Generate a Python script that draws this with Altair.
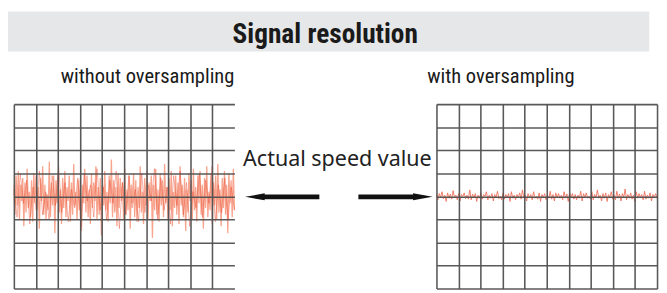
import altair as alt
import pandas as pd
import numpy as np

TITLE = "Signal resolution"
SUB_LEFT = "without oversampling"
SUB_RIGHT = "with oversampling"
MID_LABEL = "Actual speed value"
X_DIVS_LEFT = list(range(0, 10))
X_DIVS_RIGHT = list(range(0, 11))
Y_DIVS = list(range(-4, 5))

# left scope, light trace (in divisions)
left_light = [0.3,-0.8,0.9,-0.4,1.1,-1.0,0.5,-0.2,0.8,-1.3,0.6,-0.7,1.2,-0.5,0.2,-0.9,0.7,-1.1,1.0,-0.3,
0.9,-0.6,0.4,-1.4,0.8,-0.2,1.3,-0.8,0.5,-1.0,0.1,-0.6,1.5,-0.9,0.6,-0.4,0.9,-1.6,0.7,-0.3,
1.0,-0.7,0.3,-1.2,0.8,-0.5,1.1,-0.9,0.4,-0.2,0.9,-1.1,0.6,-0.8,1.4,-0.4,0.2,-1.0,0.7,-0.6,
0.8,-1.5,0.5,-0.3,1.2,-0.7,0.9,-0.9,0.3,-1.2,1.0,-0.5,0.6,-0.2,1.3,-1.0,0.4,-0.8,0.8,-1.7,
0.5,-0.4,1.1,-0.6,0.2,-1.1,0.9,-0.3,1.6,-0.9,0.7,-0.7,0.4,-1.3,1.0,-0.5,0.8,-0.2,0.6,-1.0,
1.2,-0.8,0.3,-0.6,0.9,-1.4,0.5,-0.3,1.0,-0.9,0.7,-1.1,0.4,-0.5,1.3,-0.7,0.2,-1.2,0.8,-0.4,
1.1,-1.0,0.6,-0.2,0.9,-1.8,0.5,-0.6,1.2,-0.8,0.3,-1.1,1.0,-0.4,0.7,-0.9,1.4,-0.3,0.4,-1.0,
0.8,-0.6,1.1,-1.3,0.2,-0.5,0.9,-0.8,0.6,-1.2,1.3,-0.4,0.5,-0.9,0.8,-1.5,0.3,-0.7,1.0,-0.2,
0.7,-1.0,1.2,-0.6,0.4,-1.1,0.9,-0.3,1.1,-0.8,0.5,-1.4,0.8,-0.5,1.3,-0.9,0.2,-0.6,1.0,-1.2,
0.6,-0.4,0.9,-1.0,1.4,-0.7,0.3,-1.3,0.8,-0.5,1.1,-0.8,0.5,-1.6,1.0,-0.3,0.7,-0.9,1.2,-0.6]

# left scope, dark trace
left_dark = [0.5,-0.9,1.0,-0.3,0.7,-1.2,0.4,-0.6,1.1,-0.8,0.2,-1.0,0.9,-0.4,1.3,-0.7,0.6,-1.1,0.3,-0.5,
0.8,-1.3,1.0,-0.2,0.5,-0.9,1.2,-0.6,0.4,-1.0,0.7,-0.3,1.1,-1.4,0.6,-0.8,0.9,-0.5,0.3,-1.1,
1.0,-0.7,0.5,-0.2,1.2,-1.0,0.8,-0.6,0.4,-1.2,0.9,-0.4,1.1,-0.8,0.6,-1.3,0.2,-0.5,1.0,-0.9,
0.7,-0.3,1.3,-1.1,0.5,-0.7,0.8,-1.0,0.4,-0.6]

# right scope trace
right_trace = [0.1,-0.15,0.12,-0.05,0.2,-0.1,0.05,-0.22,0.15,-0.08,0.1,-0.12,0.25,-0.05,0.05,-0.15,0.12,-0.2,0.08,0.0,
0.15,-0.1,0.05,-0.12,0.28,-0.15,0.1,-0.05,0.12,-0.22,0.05,-0.08,0.15,-0.12,0.08,0.0,0.2,-0.15,0.05,-0.08,
0.12,-0.2,0.08,-0.05,0.22,-0.1,0.0,-0.15,0.15,-0.12,0.08,-0.05,0.12,-0.22,0.2,-0.08,0.05,-0.15,0.08,-0.05,
0.15,-0.12,0.28,-0.08,0.05,-0.2,0.12,-0.05,0.08,-0.15,0.2,-0.08,0.0,-0.12,0.15,-0.22,0.08,-0.05,0.12,-0.15,
0.05,-0.08,0.22,-0.12,0.08,-0.2,0.15,-0.05,0.12,-0.08,0.05,-0.15,0.2,-0.08,0.1,-0.22,0.15,-0.05,0.12,-0.12,
0.08,-0.15,0.05,-0.08,0.22,-0.2,0.12,-0.05,0.15,-0.08,0.0,-0.12,0.2,-0.15,0.08,-0.05,0.28,-0.08,0.05,-0.2,
0.12,-0.08,0.15,-0.22,0.08,-0.05,0.2,-0.12,0.05,-0.15,0.22,-0.08,0.1,-0.2,0.12,-0.05,0.32,-0.15,0.08,-0.08,
0.15,-0.12,0.05,-0.22,0.2,-0.08,0.12,-0.05,0.08,-0.15,0.22,-0.12,0.05,-0.08,0.15,-0.2,0.08,-0.05,0.12,-0.08]

GAP_W, LEFT_W, RIGHT_W, PANEL_H, MID_W, HEAD_H = 3, 226, 226, 189, 202, 95
FULL_W = GAP_W + LEFT_W + MID_W + RIGHT_W
Y_MIN = -4
GRID_COLOR = "#505050"
TITLE_FONT = "Liberation Sans Narrow, Roboto Condensed, Roboto"
BODY_FONT = "Noto Sans"


def trace_df(vals):
    return pd.DataFrame({"t": np.linspace(0, 10, len(vals)), "v": vals})


def scope(traces, xgrid, width):
    xs = alt.Scale(domain=[0, 10], nice=False, zero=False)
    ys = alt.Scale(domain=[Y_MIN, 4], nice=False, zero=False)
    xa = alt.Axis(values=xgrid, grid=True, labels=False, ticks=False, domain=False,
                  title=None, gridColor=GRID_COLOR, gridWidth=1.6, gridOpacity=0.95, zindex=1)
    ya = alt.Axis(values=Y_DIVS, grid=True, labels=False, ticks=False, domain=False,
                  title=None, gridColor=GRID_COLOR, gridWidth=1.6, gridOpacity=0.95, zindex=1)
    layers = []
    for vals, color, w, op in traces:
        layers.append(
            alt.Chart(trace_df(vals)).mark_line(color=color, strokeWidth=w, opacity=op).encode(
                x=alt.X("t:Q", scale=xs, axis=xa),
                y=alt.Y("v:Q", scale=ys, axis=ya),
            )
        )
    return alt.layer(*layers).properties(width=width, height=PANEL_H)


left = scope([(left_light, "#f7a088", 1.3, 0.95), (left_dark, "#e8452f", 0.7, 0.6)], X_DIVS_LEFT, LEFT_W)
right = scope([(right_trace, "#ef6f5a", 0.9, 1.0)], X_DIVS_RIGHT, RIGHT_W)

one = pd.DataFrame({"k": [0]})

gap = alt.Chart(one).mark_rect(opacity=0).encode(
    x=alt.value(0), x2=alt.value(1), y=alt.value(0), y2=alt.value(1)
).properties(width=GAP_W, height=PANEL_H)

arrow_head = "M -1 0 L 1 -0.36 L 1 0.36 Z"
arrow_head_r = "M 1 0 L -1 -0.36 L -1 0.36 Z"

mid_text = alt.Chart(one).mark_text(text=MID_LABEL, font=BODY_FONT, fontSize=22, color="#222",
                                    align="center", baseline="alphabetic").encode(
    x=alt.value(102.5), y=alt.value(63))
shaft_l = alt.Chart(one).mark_rule(color="#111", strokeWidth=5).encode(
    x=alt.value(25), x2=alt.value(84), y=alt.value(95))
shaft_r = alt.Chart(one).mark_rule(color="#111", strokeWidth=5).encode(
    x=alt.value(124), x2=alt.value(183), y=alt.value(95))
head_l = alt.Chart(one).mark_point(shape=arrow_head, filled=True, color="#111", opacity=1, size=400).encode(
    x=alt.value(18), y=alt.value(95))
head_r = alt.Chart(one).mark_point(shape=arrow_head_r, filled=True, color="#111", opacity=1, size=400).encode(
    x=alt.value(190), y=alt.value(95))
middle = alt.layer(mid_text, shaft_l, shaft_r, head_l, head_r).properties(width=MID_W, height=PANEL_H)

band = alt.Chart(one).mark_rect(color="#e6e7e8").encode(
    x=alt.value(0), x2=alt.value(FULL_W), y=alt.value(0), y2=alt.value(41))
title = alt.Chart(one).mark_text(text=TITLE, font=TITLE_FONT, fontSize=28, fontWeight="bold",
                                 color="#1a1a1a", align="center", baseline="alphabetic").encode(
    x=alt.value(325), y=alt.value(32))
sub_l = alt.Chart(one).mark_text(text=SUB_LEFT, font=TITLE_FONT, fontSize=21, color="#1a1a1a",
                                 align="center", baseline="alphabetic").encode(
    x=alt.value(143), y=alt.value(73))
sub_r = alt.Chart(one).mark_text(text=SUB_RIGHT, font=TITLE_FONT, fontSize=21, color="#1a1a1a",
                                 align="center", baseline="alphabetic").encode(
    x=alt.value(505), y=alt.value(73))
header = alt.layer(band, title, sub_l, sub_r).properties(width=FULL_W, height=HEAD_H)

row = alt.hconcat(gap, left, middle, right, spacing=0)
chart = alt.vconcat(header, row, spacing=0).properties(
    padding=0, background="white"
).configure_view(strokeWidth=0)

chart.save("out.html", embed_options={"renderer": "svg", "actions": False})
